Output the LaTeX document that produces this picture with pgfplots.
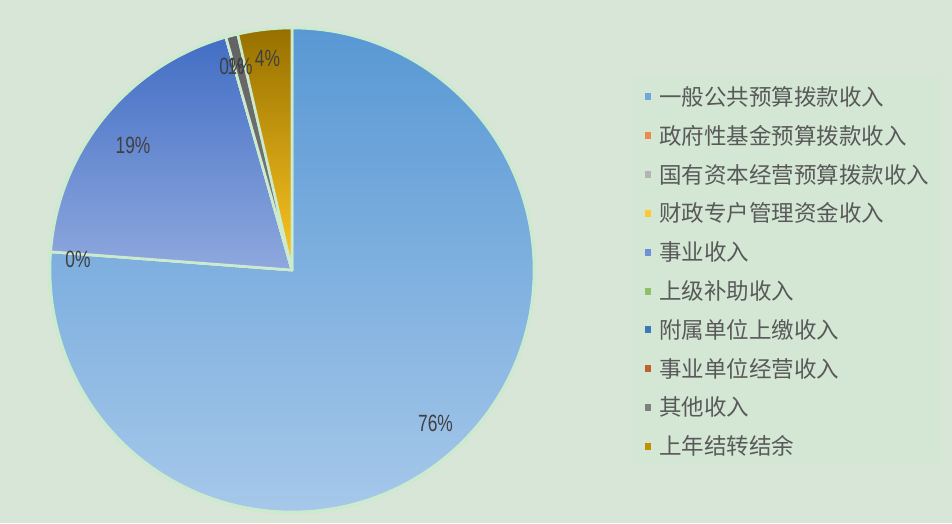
\documentclass[border=0pt]{standalone}
\usepackage{pgfplots}
\pgfplotsset{compat=1.18}
\usepackage{pgfplotstable}
\usepackage{fontspec}
\newfontfamily\cjk{Noto Sans CJK SC}
\newfontfamily\pctfont[FakeStretch=0.74]{Liberation Sans}

\definecolor{bgc}{RGB}{215,230,214}
\definecolor{legbg}{RGB}{211,231,212}
\definecolor{sep}{RGB}{204,234,206}
\definecolor{txt}{RGB}{89,89,89}
\definecolor{pct}{RGB}{64,64,64}

% share of each income item, in percent
\pgfplotstableread{
name        value
一般公共预算拨款收入   76.2
政府性基金预算拨款收入  0
国有资本经营预算拨款收入 0
财政专户管理资金收入   0
事业收入          19.4
上级补助收入        0
附属单位上缴收入      0
事业单位经营收入      0
其他收入          0.8
上年结转结余        3.6
}\pie

% slice fills: top colour / bottom colour, and legend marker colour
\definecolor{t0}{RGB}{88,152,212}   \definecolor{b0}{RGB}{166,200,234} \definecolor{m0}{RGB}{111,168,220}
\definecolor{t1}{RGB}{237,125,49}   \definecolor{b1}{RGB}{244,160,100} \definecolor{m1}{RGB}{240,138,75}
\definecolor{t2}{RGB}{165,165,165}  \definecolor{b2}{RGB}{190,190,190} \definecolor{m2}{RGB}{180,180,180}
\definecolor{t3}{RGB}{255,192,0}    \definecolor{b3}{RGB}{255,210,80}  \definecolor{m3}{RGB}{255,200,48}
\definecolor{t4}{RGB}{66,110,196}   \definecolor{b4}{RGB}{143,168,222} \definecolor{m4}{RGB}{111,143,216}
\definecolor{t5}{RGB}{112,173,71}   \definecolor{b5}{RGB}{150,200,110} \definecolor{m5}{RGB}{140,193,104}
\definecolor{t6}{RGB}{37,94,145}    \definecolor{b6}{RGB}{70,130,190}  \definecolor{m6}{RGB}{58,120,184}
\definecolor{t7}{RGB}{158,72,14}    \definecolor{b7}{RGB}{200,100,40}  \definecolor{m7}{RGB}{192,96,42}
\definecolor{t8}{RGB}{98,98,98}     \definecolor{b8}{RGB}{125,125,125} \definecolor{m8}{RGB}{128,128,128}
\definecolor{t9}{RGB}{150,112,0}    \definecolor{b9}{RGB}{255,200,35}  \definecolor{m9}{RGB}{192,144,0}

% slice angles, clockwise from 12 o'clock
\pgfplotstablegetrowsof{\pie}
\pgfmathtruncatemacro\nrows{\pgfplotsretval-1}
\def\acc{90}
\foreach \i in {0,...,\nrows}{
  \pgfplotstablegetelem{\i}{value}\of\pie
  \pgfmathsetmacro\endang{\acc-3.6*\pgfplotsretval}
  \expandafter\xdef\csname sa\i\endcsname{\acc}
  \expandafter\xdef\csname ea\i\endcsname{\endang}
  \pgfplotstablegetelem{\i}{name}\of\pie
  \expandafter\xdef\csname nm\i\endcsname{\pgfplotsretval}
  \xdef\acc{\endang}
}

\begin{document}
\begin{tikzpicture}
\begin{axis}[
  x=1pt, y=1pt,
  xmin=-292, xmax=660, ymin=-253, ymax=270,
  hide axis, clip=false,
]
\fill[bgc] (axis cs:-292,-253) rectangle (axis cs:660,270);
\fill[legbg] (axis cs:339,-193) rectangle (axis cs:649,193);
\fill[sep] (axis cs:0,0) circle[radius=244pt];

\pgfplotsinvokeforeach{0,...,9}{
  \shade[top color=t#1, bottom color=b#1, draw=sep, line width=2.6pt, line join=round]
    (axis cs:0,0) -- ++(\csname sa#1\endcsname:242pt)
    arc[start angle=\csname sa#1\endcsname, end angle=\csname ea#1\endcsname, radius=242pt] -- cycle;
}

% legend
\pgfplotsinvokeforeach{0,...,9}{
  \fill[m#1] (axis cs:352.5,{173-38.8*#1-3.5}) rectangle (axis cs:358.5,{173-38.8*#1+3.5});
  \node[anchor=west, inner sep=0pt, text=txt, font=\cjk\fontsize{22.5}{27}\selectfont]
    at (axis cs:367,{173-38.8*#1}) {\csname nm#1\endcsname};
}

% data labels
\begin{scope}[every node/.style={inner sep=0pt, text=pct, font=\pctfont\fontsize{23.5}{28}\selectfont}]
\node at (axis cs:143.5,-153.5) {76\%};
\node at (axis cs:-159,124.5) {19\%};
\node at (axis cs:-214,11) {0\%};
\node at (axis cs:-60,203.5) {0\%};
\node at (axis cs:-52,203.5) {1\%};
\node at (axis cs:-24.5,211.5) {4\%};
\end{scope}
\end{axis}
\end{tikzpicture}
\end{document}
